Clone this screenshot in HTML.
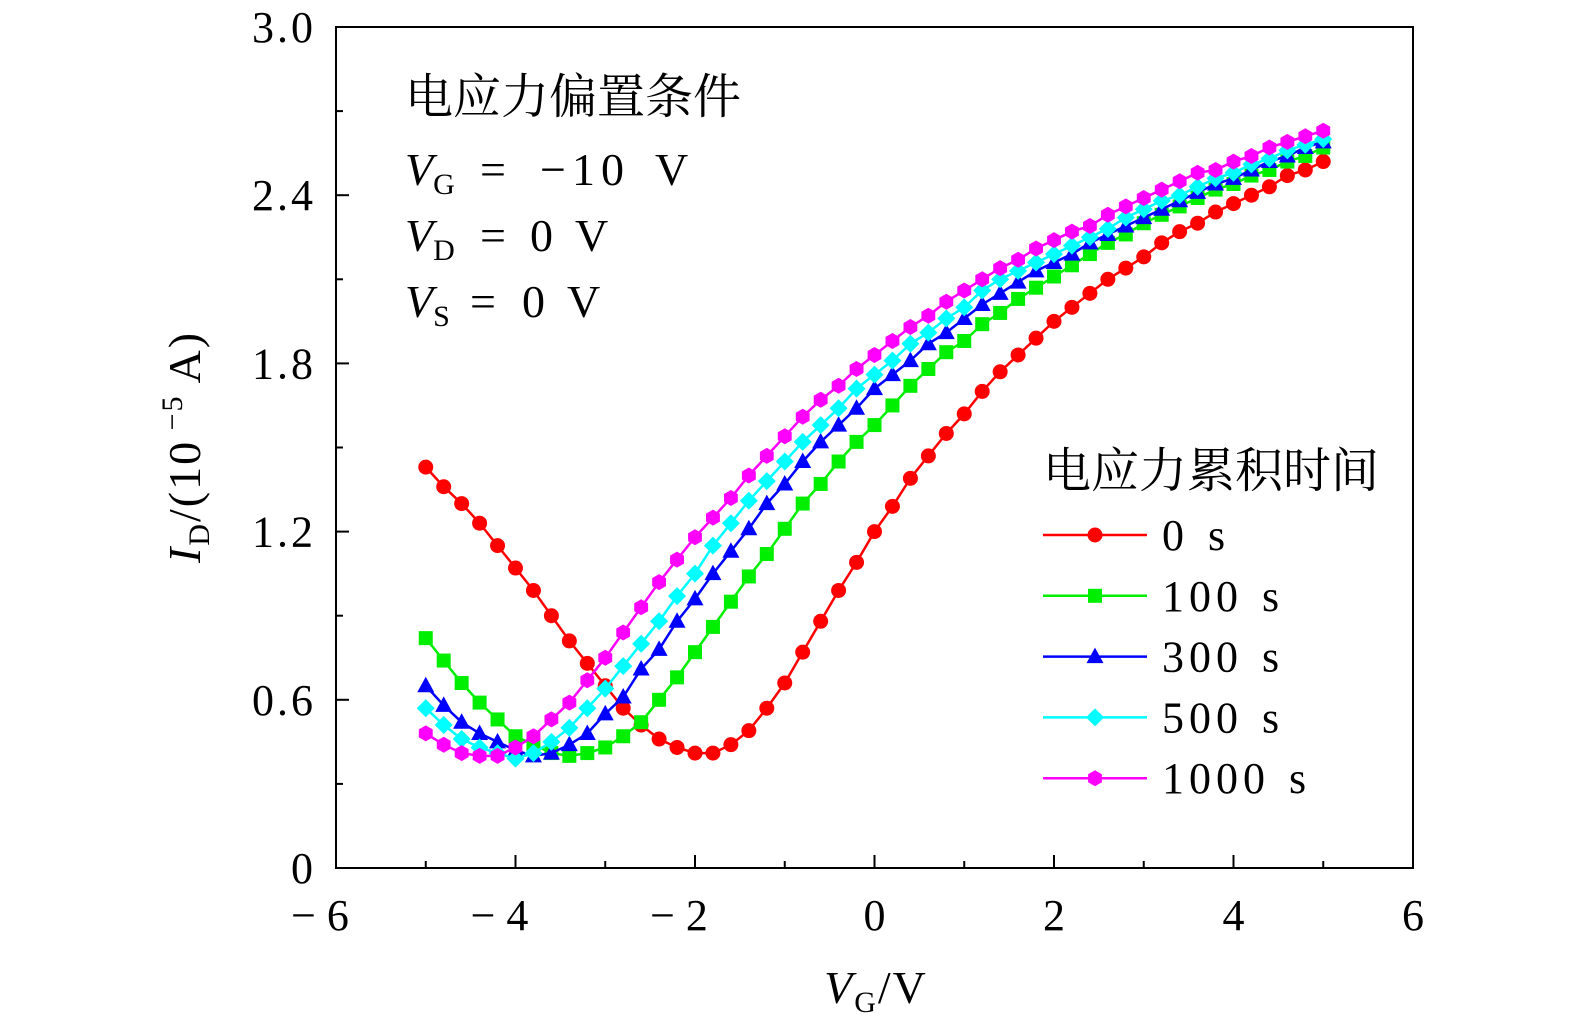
<!DOCTYPE html>
<html><head><meta charset="utf-8"><style>
html,body{margin:0;padding:0;background:#fff;}
svg{display:block;font-family:"Liberation Serif","Noto Serif CJK SC",serif;}
</style></head><body>
<svg id="chart" width="1575" height="1033" viewBox="0 0 1575 1033" xmlns="http://www.w3.org/2000/svg">
<rect x="0" y="0" width="1575" height="1033" fill="#fff"/>
<g id="marks"></g>
<rect x="336" y="27" width="1077" height="841" fill="none" stroke="#000" stroke-width="2"/>
<g id="axes"></g>
<text transform="translate(200,447) rotate(-90)" text-anchor="middle" font-size="46" letter-spacing="2"><tspan font-style="italic">I</tspan><tspan font-size="30" dy="9">D</tspan><tspan dy="-9">/(10</tspan><tspan font-size="30" dy="-18"> −5</tspan><tspan dy="18">  A)</tspan></text>
<text x="876" y="1003" text-anchor="middle" font-size="46" letter-spacing="2"><tspan font-style="italic">V</tspan><tspan font-size="30" dy="9">G</tspan><tspan dy="-9">/V</tspan></text>
<g font-size="46">
<text x="405" y="113" font-size="48">电应力偏置条件</text>
<text y="185"><tspan x="405" font-style="italic">V</tspan><tspan font-size="30" dy="9">G</tspan><tspan x="480" dy="-9" letter-spacing="4">=</tspan><tspan x="540" letter-spacing="6">−10</tspan><tspan x="655">V</tspan></text>
<text y="251"><tspan x="405" font-style="italic">V</tspan><tspan font-size="30" dy="9">D</tspan><tspan x="480" dy="-9">=</tspan><tspan x="530">0</tspan><tspan x="575">V</tspan></text>
<text y="317"><tspan x="405" font-style="italic">V</tspan><tspan font-size="30" dy="9">S</tspan><tspan x="470" dy="-9">=</tspan><tspan x="522">0</tspan><tspan x="567">V</tspan></text>
</g>
<g id="legend">
<text x="1043" y="487" font-size="48">电应力累积时间</text>
</g>
</svg>
<script>
const xs = [];
const xStart = -5, xStep = 0.2, nPts = 51;
const seriesNames = ["0","100","300","500","1000"];
const red0s = [1.43,1.36,1.30,1.23,1.15,1.07,0.99,0.90,0.81,0.73,0.65,0.57,0.51,0.46,0.43,0.41,0.41,0.44,0.49,0.57,0.66,0.77,0.88,0.99,1.09,1.20,1.29,1.39,1.47,1.55,1.62,1.70,1.77,1.83,1.89,1.95,2.00,2.05,2.10,2.14,2.18,2.23,2.27,2.30,2.34,2.37,2.40,2.43,2.47,2.49,2.52];
const green100s = [0.82,0.74,0.66,0.59,0.53,0.47,0.44,0.41,0.40,0.41,0.43,0.47,0.52,0.60,0.68,0.77,0.86,0.95,1.04,1.12,1.21,1.30,1.37,1.45,1.52,1.58,1.65,1.72,1.78,1.84,1.88,1.94,1.98,2.03,2.07,2.11,2.15,2.19,2.23,2.26,2.30,2.33,2.36,2.39,2.42,2.44,2.47,2.49,2.52,2.54,2.57];
const blue300s = [0.65,0.58,0.52,0.48,0.45,0.42,0.40,0.41,0.44,0.48,0.55,0.61,0.71,0.78,0.88,0.96,1.05,1.13,1.21,1.30,1.37,1.45,1.52,1.58,1.64,1.71,1.76,1.81,1.87,1.91,1.96,2.01,2.05,2.09,2.13,2.16,2.19,2.23,2.26,2.29,2.32,2.35,2.38,2.41,2.44,2.46,2.49,2.52,2.54,2.57,2.59];
const cyan500s = [0.57,0.51,0.46,0.43,0.41,0.39,0.41,0.45,0.50,0.57,0.64,0.72,0.80,0.88,0.97,1.05,1.15,1.23,1.31,1.38,1.45,1.52,1.58,1.64,1.71,1.76,1.81,1.87,1.91,1.96,2.00,2.06,2.10,2.13,2.16,2.19,2.22,2.25,2.28,2.32,2.35,2.38,2.40,2.43,2.46,2.48,2.51,2.53,2.56,2.58,2.60];
const magenta1000s = [0.48,0.44,0.41,0.40,0.40,0.43,0.47,0.53,0.59,0.67,0.75,0.84,0.93,1.02,1.10,1.18,1.25,1.32,1.40,1.47,1.54,1.61,1.67,1.72,1.78,1.83,1.88,1.93,1.97,2.02,2.06,2.10,2.14,2.17,2.21,2.24,2.27,2.29,2.33,2.36,2.39,2.42,2.45,2.48,2.49,2.52,2.54,2.57,2.59,2.61,2.63];
const xTickLabels = ["−6","−4","−2","0","2","4","6"];
const xTickValues = [-6,-4,-2,0,2,4,6];
const yTickLabels = ["0","0.6","1.2","1.8","2.4","3.0"];
const yTickValues = [0,0.6,1.2,1.8,2.4,3.0];
for (let i=0;i<nPts;i++) xs.push(+(xStart+i*xStep).toFixed(2));

const NS="http://www.w3.org/2000/svg";
const X0=336,X1=1413,Y0=868,Y1=27;
function sx(v){return X0+(v+6)/12*(X1-X0);}
function sy(v){return Y0-v/3*(Y0-Y1);}
function mk(tag,attrs,parent){const e=document.createElementNS(NS,tag);for(const k in attrs)e.setAttribute(k,attrs[k]);parent.appendChild(e);return e;}

const axes=document.getElementById('axes');
for(let v=-6;v<=6;v+=1){
  const major=(v%2===0);
  const t=mk('line',{x1:sx(v),x2:sx(v),y1:Y0,y2:Y0-(major?13:7),stroke:'#000','stroke-width':2},axes);
  
  
}
for(let k=0;k<=10;k++){
  const v=k*0.3, major=(k%2===0);
  const t=mk('line',{x1:X0,x2:X0+(major?13:7),y1:sy(v),y2:sy(v),stroke:'#000','stroke-width':2},axes);
  
  
}
xTickValues.forEach((v,i)=>{
  const lab=xTickLabels[i];
  const neg=lab.startsWith('−');
  const t=mk('text',{x:sx(v)+(neg?-16:0),y:930,'text-anchor':'middle','font-size':44},axes);
  t.textContent=neg?('− '+lab.slice(1)):lab;
  
  
});
yTickValues.forEach((v,i)=>{
  const t=mk('text',{x:316,y:sy(v)+15,'text-anchor':'end','font-size':44,'letter-spacing':3},axes);
  t.textContent=yTickLabels[i];
  
  
});

function marker(shape,cx,cy,color,parent){
  let e;
  if(shape==='circle') e=mk('circle',{cx:cx,cy:cy,r:7.5,fill:color},parent);
  else if(shape==='square') e=mk('rect',{x:cx-7,y:cy-7,width:14,height:14,fill:color},parent);
  else if(shape==='triangle') e=mk('polygon',{points:`${cx},${cy-9} ${cx-8.5},${cy+6.5} ${cx+8.5},${cy+6.5}`,fill:color},parent);
  else if(shape==='diamond') e=mk('polygon',{points:`${cx},${cy-9} ${cx+9},${cy} ${cx},${cy+9} ${cx-9},${cy}`,fill:color},parent);
  else { let p=[];for(let k=0;k<6;k++){const a=Math.PI/6+k*Math.PI/3;p.push((cx+8*Math.cos(a)).toFixed(1)+','+(cy+8*Math.sin(a)).toFixed(1));} e=mk('polygon',{points:p.join(' '),fill:color},parent);}
  return e;
}
const series=[
  {vals:red0s,color:'#ff0000',shape:'circle',key:'0s'},
  {vals:green100s,color:'#00ee00',shape:'square',key:'100s'},
  {vals:blue300s,color:'#0000ff',shape:'triangle',key:'300s'},
  {vals:cyan500s,color:'#00ffff',shape:'diamond',key:'500s'},
  {vals:magenta1000s,color:'#ff00ff',shape:'hexagon',key:'1000s'}
];
const marks=document.getElementById('marks');
series.forEach(s=>{
  const g=mk('g',{},marks);
  
  
  const pts=s.vals.map((v,i)=>sx(xs[i]).toFixed(1)+','+sy(v).toFixed(1)).join(' ');
  const pl=mk('polyline',{points:pts,fill:'none',stroke:s.color,'stroke-width':2.5},g);
  
  
  s.vals.forEach((v,i)=>{
    const m=marker(s.shape,sx(xs[i]),sy(v),s.color,g);
    
    
  });
});
const legend=document.getElementById('legend');
series.forEach((s,i)=>{
  const y=535+i*60.8;
  const g=mk('g',{},legend);
  
  
  mk('line',{x1:1043,x2:1147,y1:y,y2:y,stroke:s.color,'stroke-width':2.5},g);
  marker(s.shape,1095,y,s.color,g);
  const t=mk('text',{x:1162,y:y+15,'font-size':44,'letter-spacing':5},g);
  t.textContent=seriesNames[i];
  const u=mk('text',{x:1162+seriesNames[i].length*27+19,y:y+15,'font-size':44},g);
  u.textContent='s';
});
</script>
</body></html>
